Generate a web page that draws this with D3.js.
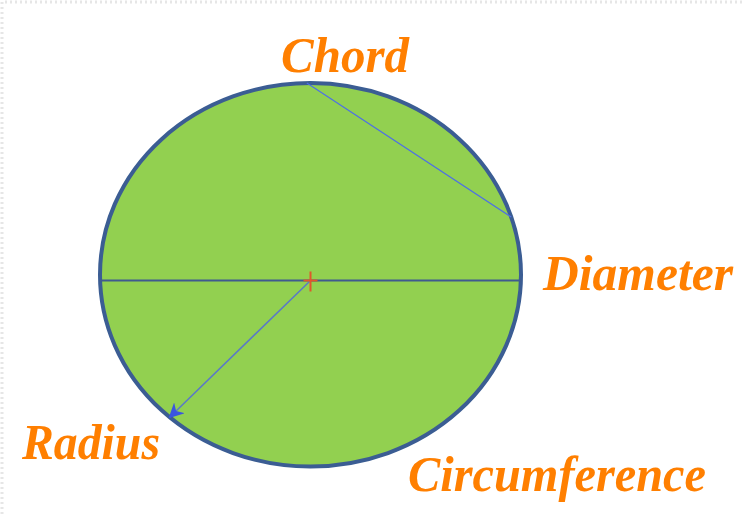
<!DOCTYPE html>
<html>
<head>
<meta charset="utf-8">
<script src="https://cdn.jsdelivr.net/npm/d3@7"></script>
<style>
  body { margin: 0; background: #fff; }
  svg { display: block; }
</style>
</head>
<body>
<div id="chart"></div>
<script>
const width = 742;
const height = 514;

// Data (unit circle geometry, angles in degrees).
const labels = ["Chord", "Diameter", "Radius", "Circumference"];
const chordAngles = [91, 17.5];
const radiusAngle = 228;
const diameterLevel = -0.03;

const x = d3.scaleLinear().domain([-1, 1]).range([100, 521]);
const y = d3.scaleLinear().domain([-1, 1]).range([466.5, 83]);

const onEllipse = a => {
  const r = a * Math.PI / 180;
  return [x(Math.cos(r)), y(Math.sin(r))];
};

const svg = d3.select("#chart")
  .append("svg")
  .attr("width", width)
  .attr("height", height);

// faint page edge
svg.append("path")
  .attr("d", `M2,${height} V2 H${width}`)
  .attr("fill", "none")
  .attr("stroke", "#e6e6e6")
  .attr("stroke-width", 3)
  .attr("stroke-dasharray", "2,3");

const defs = svg.append("defs");
defs.append("marker")
  .attr("id", "arrow")
  .attr("viewBox", "0 0 10 10")
  .attr("refX", 9)
  .attr("refY", 5)
  .attr("markerWidth", 10)
  .attr("markerHeight", 10)
  .attr("orient", "auto")
  .append("path")
  .attr("d", "M0,0 L10,5 L0,10 L3,5 Z")
  .attr("fill", "#3a55e0");

svg.append("ellipse")
  .attr("cx", x(0))
  .attr("cy", y(0))
  .attr("rx", x(1) - x(0))
  .attr("ry", y(-1) - y(0))
  .attr("fill", "#92d050")
  .attr("stroke", "#3b5d93")
  .attr("stroke-width", 4);

// diameter
svg.append("line")
  .attr("x1", x(-1))
  .attr("x2", x(1))
  .attr("y1", y(diameterLevel))
  .attr("y2", y(diameterLevel))
  .attr("stroke", "#3f5b8f")
  .attr("stroke-width", 2);

// chord
const [c1, c2] = chordAngles.map(onEllipse);
svg.append("line")
  .attr("x1", c1[0]).attr("y1", c1[1])
  .attr("x2", c2[0]).attr("y2", c2[1])
  .attr("stroke", "#4d6fe6")
  .attr("stroke-width", 1.2);

// radius
const cx = x(0), cy = y(diameterLevel);
const r1 = onEllipse(radiusAngle);
svg.append("line")
  .attr("x1", cx).attr("y1", cy)
  .attr("x2", r1[0]).attr("y2", r1[1])
  .attr("stroke", "#5a78c8")
  .attr("stroke-width", 1.5)
  .attr("marker-end", "url(#arrow)");

// centre mark
svg.append("g")
  .attr("stroke", "#e0572b")
  .attr("stroke-width", 2)
  .selectAll("line")
  .data([[-7, 0, 7, 0], [0, -9, 0, 11]])
  .join("line")
  .attr("x1", d => cx + d[0])
  .attr("y1", d => cy + d[1])
  .attr("x2", d => cx + d[2])
  .attr("y2", d => cy + d[3]);

// labels
const labelPos = {
  "Chord": [281, 72, 128],
  "Diameter": [543, 290, 190],
  "Radius": [22, 459, 138],
  "Circumference": [408, 491, 298]
};

svg.append("g")
  .selectAll("text")
  .data(labels)
  .join("text")
  .attr("x", d => labelPos[d][0])
  .attr("y", d => labelPos[d][1])
  .attr("textLength", d => labelPos[d][2])
  .attr("lengthAdjust", "spacingAndGlyphs")
  .attr("font-family", "'Liberation Serif', 'DejaVu Serif', serif")
  .attr("font-style", "italic")
  .attr("font-weight", "bold")
  .attr("font-size", 50)
  .attr("fill", "#ff7f00")
  .text(d => d);
</script>
</body>
</html>
